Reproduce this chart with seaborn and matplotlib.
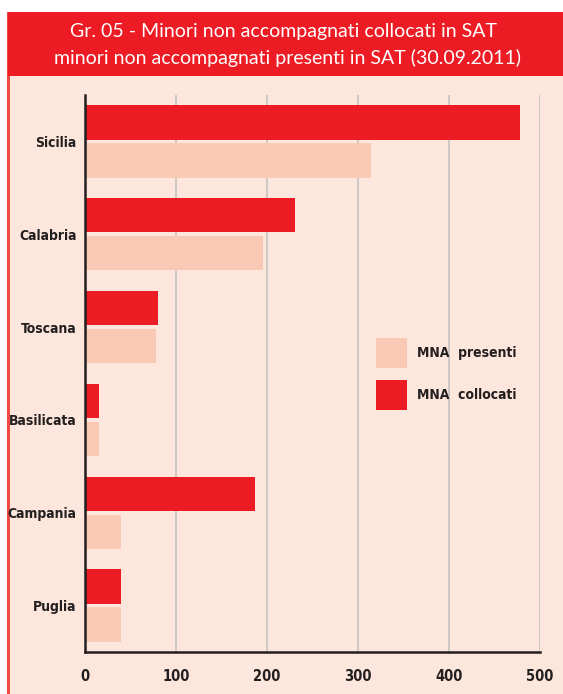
import matplotlib
matplotlib.use("Agg")
import matplotlib.pyplot as plt
import seaborn as sns
import pandas as pd
from matplotlib.patches import Rectangle, Patch

# data
regioni = ["Sicilia", "Calabria", "Toscana", "Basilicata", "Campania", "Puglia"]
collocati = [478, 231, 80, 15, 187, 40]
presenti = [314, 196, 78, 15, 40, 40]
xticks = [0, 100, 200, 300, 400, 500]

RED = "#ED1C24"
PINK = "#FAC9B5"
BG = "#FDE6DC"
DARK = "#231F20"

df = pd.DataFrame({
    "regione": regioni * 2,
    "valore": collocati + presenti,
    "serie": ["MNA  collocati"] * len(regioni) + ["MNA  presenti"] * len(regioni),
})

sns.set_theme(style="white")
plt.rcParams["font.family"] = ["DejaVu Sans"]
plt.rcParams["font.stretch"] = "condensed"

fig = plt.figure(figsize=(5.63, 6.94), dpi=100)
fig.patch.set_facecolor("white")

W, H = 563, 694
# pink background panel, left red border, red header band
fig.patches.append(Rectangle((10 / W, 0), 1, (H - 76) / H, transform=fig.transFigure,
                             facecolor=BG, edgecolor="none", zorder=-2))
fig.patches.append(Rectangle((7 / W, 0), 3 / W, (H - 12) / H, transform=fig.transFigure,
                             facecolor="#F04A45", edgecolor="none", zorder=-2))
fig.patches.append(Rectangle((8 / W, (H - 76) / H), 1, 64 / H, transform=fig.transFigure,
                             facecolor=RED, edgecolor="none", zorder=-2))
fig.text(284 / W, (H - 31) / H, "Gr. 05 - Minori non accompagnati collocati in SAT",
         ha="center", va="center", color="white", fontsize=14, family=["Lato", "DejaVu Sans"],
         fontstretch="normal")
fig.text(288 / W, (H - 58) / H, "minori non accompagnati presenti in SAT (30.09.2011)",
         ha="center", va="center", color="white", fontsize=14, family=["Lato", "DejaVu Sans"],
         fontstretch="normal")

ax = fig.add_axes([85 / W, 42 / H, 455 / W, 557 / H])
ax.set_zorder(2)
ax.patch.set_alpha(0)

sns.barplot(data=df, y="regione", x="valore", hue="serie", order=regioni,
            hue_order=["MNA  collocati", "MNA  presenti"], palette=[RED, PINK],
            orient="h", width=0.82, gap=0.1, saturation=1, linewidth=0,
            ax=ax, zorder=3)

ax.set_xlim(0, 500)
ax.set_ylim(5.5, -0.5)
ax.set_xticks(xticks)
ax.set_xticklabels([str(t) for t in xticks])
ax.grid(axis="x", color="#C9C6C4", linewidth=1.3, zorder=0)
ax.set_axisbelow(True)
ax.set_xlabel("")
ax.set_ylabel("")

for s in ["top", "right"]:
    ax.spines[s].set_visible(False)
for s in ["left", "bottom"]:
    ax.spines[s].set_color(DARK)
    ax.spines[s].set_linewidth(1.8)
    ax.spines[s].set_zorder(5)

ax.tick_params(axis="y", length=0, pad=6, labelsize=10, labelcolor=DARK)
ax.tick_params(axis="x", length=0, pad=12, labelsize=10.5, labelcolor=DARK)
for lbl in ax.get_yticklabels() + ax.get_xticklabels():
    lbl.set_fontweight("bold")
    lbl.set_fontstretch("condensed")

# cap at the top of the axis
ax.set_yticks([-0.5], minor=True)
ax.tick_params(axis="y", which="minor", direction="inout", length=20, width=1.8, color=DARK)

handles = [Patch(facecolor=PINK, edgecolor="none"), Patch(facecolor=RED, edgecolor="none")]
leg = ax.legend(handles, ["MNA  presenti", "MNA  collocati"], loc="upper left",
                bbox_to_anchor=(0.613, 0.587), frameon=False, handlelength=2.2,
                handleheight=3.0, labelspacing=0.85, handletextpad=0.75,
                prop={"size": 10, "weight": "bold", "stretch": "condensed"})
for t in leg.get_texts():
    t.set_color(DARK)

fig.savefig("out.png", dpi=100)
